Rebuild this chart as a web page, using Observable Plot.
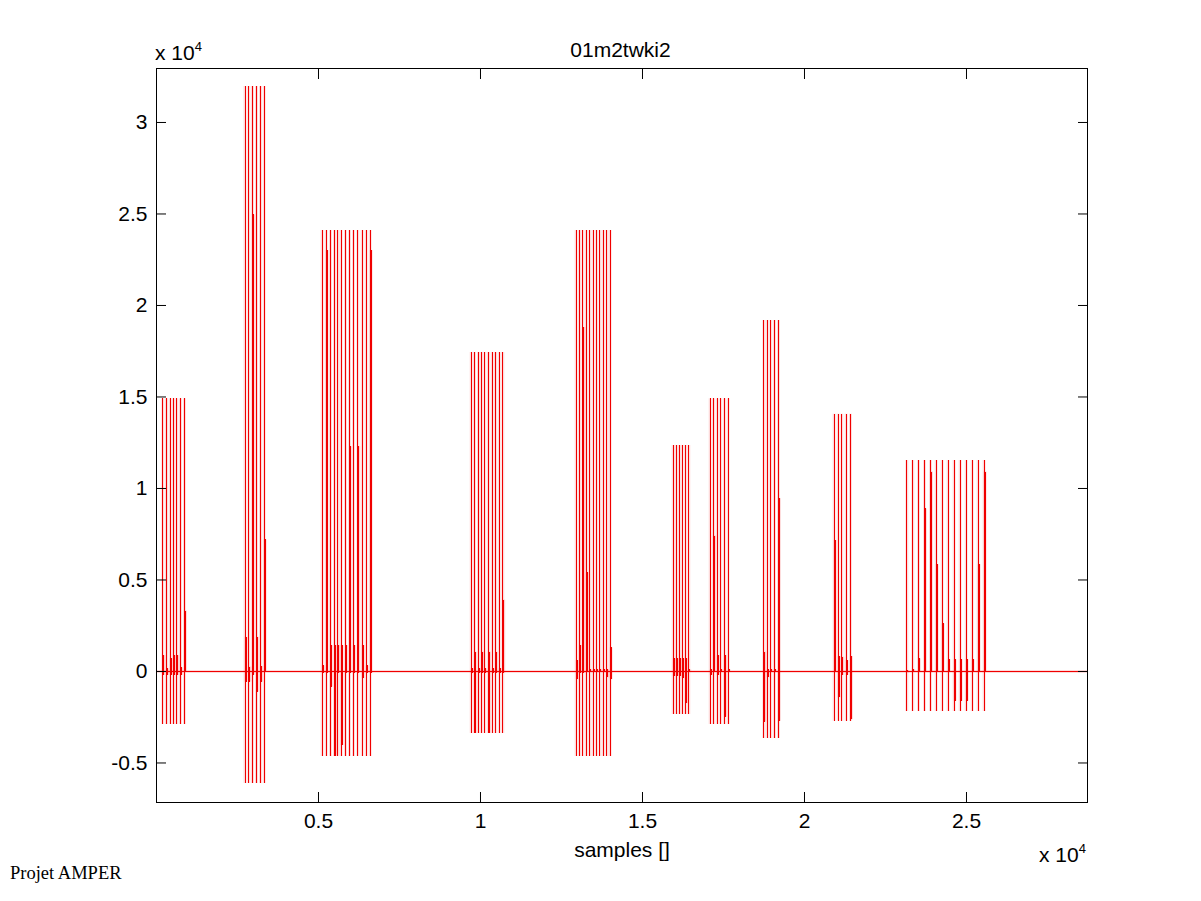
<!DOCTYPE html>
<html>
<head>
<meta charset="utf-8">
<script src="https://cdn.jsdelivr.net/npm/d3@7"></script>
<script src="https://cdn.jsdelivr.net/npm/@observablehq/plot@0.6"></script>
<style>
  body { margin: 0; background: #fff; }
  #chart { position: relative; width: 1201px; height: 901px; font-family: "Liberation Sans", sans-serif; color: #000; }
  #chart div { position: absolute; white-space: nowrap; }
  #title { left: 155px; width: 931px; top: 38px; text-align: center; font-size: 21px; }
  #ymult { left: 155px; top: 41px; font-size: 21px; }
  #xmult { left: 1039px; top: 843px; font-size: 21px; }
  sup { font-size: 13px; vertical-align: 9px; line-height: 0; }
  #credit { left: 10px; top: 863px; font-family: "Liberation Serif", serif; font-size: 18.5px; }
</style>
</head>
<body>
<div id="chart">
  <div id="title">01m2twki2</div>
  <div id="ymult">x 10<sup>4</sup></div>
  <div id="xmult">x 10<sup>4</sup></div>
  <div id="credit">Projet AMPER</div>
</div>
<script>
const xTicks = [5000, 10000, 15000, 20000, 25000]
const yTicks = [-5000, 0, 5000, 10000, 15000, 20000, 25000, 30000]

// top and bottom of the tall pulses of each word
const peaks = [14900, 31970, 24100, 17430, 24100, 12350, 14900, 19180, 14050, 11530]
const troughs = [-2900, -6120, -4640, -3390, -4640, -2350, -2900, -3660, -2720, -2190]

// sample position of each tall pulse
const spikeSamples = [
  [225, 340, 454, 556, 657, 772, 895],
  [2765, 2880, 2994, 3117, 3241, 3355],
  [5145, 5268, 5401, 5525, 5627, 5731, 5864, 5988, 6111, 6244, 6380, 6503, 6627],
  [9744, 9846, 9969, 10062, 10164, 10278, 10392, 10494, 10608, 10719],
  [12984, 13086, 13190, 13299, 13404, 13509, 13614, 13719, 13824, 13929, 14034],
  [15978, 16071, 16163, 16256, 16358, 16460],
  [17120, 17222, 17336, 17447, 17561, 17675],
  [18774, 18880, 18991, 19105, 19228],
  [20947, 21071, 21182, 21318, 21451],
  [23188, 23373, 23549, 23735, 23920, 24096, 24281, 24466, 24651, 24836, 25022, 25207, 25392, 25577]
]

// the signal itself, just after each pulse: max and min
const signalHigh = [
  [870, 150, 700, 870, 870, 200, 3300],
  [1870, 240, 24950, 1870, 270, 7190],
  [300, 23000, 1420, 1420, 1420, 1420, 1420, 12285, 1420, 12285, 1420, 300, 23000],
  [150, 1055, 150, 1055, 150, 1055, 150, 1055, 150, 3900],
  [600, 1420, 18800, 5400, 90, 90, 90, 90, 90, 100, 1290],
  [690, 690, 690, 690, 690, 90],
  [90, 7400, 875, 90, 875, 90],
  [1055, 90, 90, 90, 9450],
  [7160, 820, 780, 600, 820],
  [50, 100, 690, 8880, 10900, 5840, 2600, 640, 640, 640, 640, 640, 5840, 10900]
]
const signalLow = [
  [-220, -220, -220, -220, -220, -220, -50],
  [-580, -580, -200, -1130, -580, -50],
  [-100, -100, -855, -4640, -100, -4040, -100, -100, -100, -100, -400, -100, -100],
  [-100, -3390, -100, -100, -100, -3390, -100, -100, -100, -100],
  [-455, -100, -100, -50, -50, -50, -50, -50, -50, -350, -455],
  [-270, -270, -270, -400, -1765, -50],
  [-220, -50, -220, -50, -2490, -50],
  [-2765, -345, -50, -50, -2730],
  [-50, -1440, -220, -220, -2640],
  [-80, -50, -50, -50, -50, -50, -50, -50, -1620, -1620, -1620, -50, -50, -50]
]
const signalLag = 30

const red = "#f00000"
const fmt = d => String(d / 1e4)

const spikes = spikeSamples.flatMap((xs, i) => xs.map(x => ({x, y1: troughs[i], y2: peaks[i]})))
const signal = spikeSamples.flatMap((xs, i) => xs.map((x, j) => ({
  x: x + signalLag, y1: signalLow[i][j], y2: signalHigh[i][j]
})))
const rules = spikes.concat(signal)

const plot = Plot.plot({
  width: 1201,
  height: 901,
  marginLeft: 156,
  marginRight: 114,
  marginTop: 68,
  marginBottom: 99,
  style: {fontFamily: "Liberation Sans, sans-serif", fontSize: "21px", color: "#000", background: "#fff"},
  x: {domain: [0, 28735]},
  y: {domain: [-7160, 32950]},
  marks: [
    // pale fringe the reference has around every thin red line
    Plot.ruleX(rules, {x: "x", y1: "y1", y2: "y2", dx: -1, stroke: red, strokeWidth: 3, strokeOpacity: 0.14}),
    Plot.ruleY([0], {stroke: red, strokeWidth: 3, strokeOpacity: 0.14}),
    Plot.ruleY([0], {stroke: red, strokeWidth: 1, shapeRendering: "crispEdges"}),
    Plot.ruleX(rules, {x: "x", y1: "y1", y2: "y2", dx: -1, stroke: red, strokeWidth: 1, shapeRendering: "crispEdges"}),
    Plot.frame({stroke: "#000", strokeWidth: 1, shapeRendering: "crispEdges"}),
    Plot.axisX({anchor: "bottom", ticks: xTicks, tickSize: -10, tickPadding: 21, tickFormat: fmt, label: "samples []", labelAnchor: "center", labelArrow: "none", labelOffset: 54, labelOffsetX: -1, strokeOpacity: 1}),
    Plot.axisX({anchor: "top", ticks: xTicks, tickSize: -10, tickFormat: () => "", label: null, strokeOpacity: 1}),
    Plot.axisY({anchor: "left", ticks: yTicks, tickSize: -10, tickPadding: 19, tickFormat: fmt, label: null, strokeOpacity: 1}),
    Plot.axisY({anchor: "right", ticks: yTicks, tickSize: -10, tickFormat: () => "", label: null, strokeOpacity: 1})
  ]
})
document.getElementById("chart").prepend(plot)
</script>
</body>
</html>
